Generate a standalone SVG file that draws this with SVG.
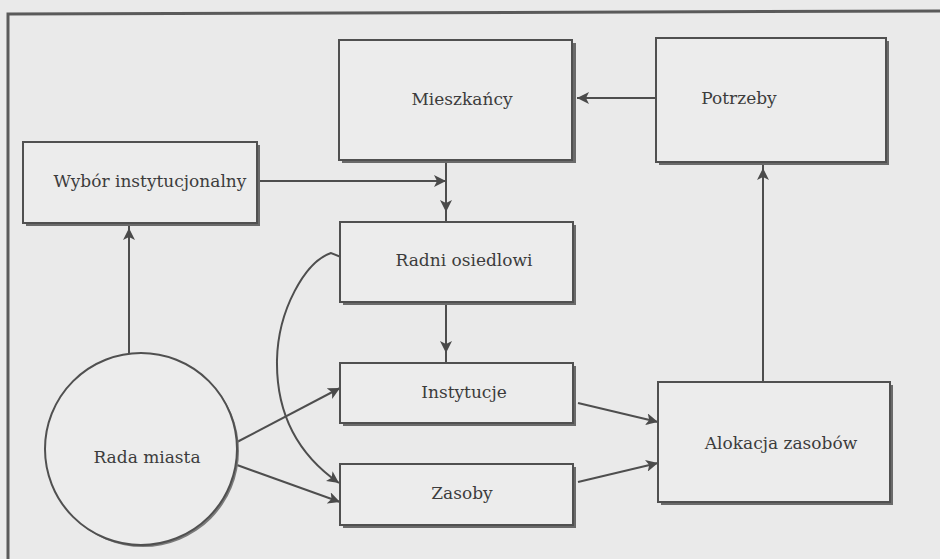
<svg xmlns="http://www.w3.org/2000/svg" width="940" height="559" viewBox="0 0 940 559">
  <style>
    .box { fill: #ececec; stroke: #505050; stroke-width: 2; }
    .shadow { fill: #6a6a6a; }
    .lbl { font-family: "DejaVu Serif", "Liberation Serif", serif; font-size: 17px; fill: #3c3c3c; text-anchor: middle; }
    .conn { fill: none; stroke: #4e4e4e; stroke-width: 2; }
    .frame { fill: none; stroke: #5a5a5a; stroke-width: 3; }
  </style>
  <defs>
    <!-- arrowhead with its tip at the end of the line -->
    <marker id="head" markerUnits="userSpaceOnUse" markerWidth="14" markerHeight="12" refX="12" refY="6" orient="auto">
      <path d="M0,0 L12,6 L0,12 L3,6 z" fill="#4a4a4a"/>
    </marker>
    <!-- arrowhead drawn a little short of the line end -->
    <marker id="head-gap" markerUnits="userSpaceOnUse" markerWidth="24" markerHeight="12" refX="22" refY="6" orient="auto">
      <path d="M0,0 L12,6 L0,12 L3,6 z" fill="#4a4a4a"/>
    </marker>
  </defs>

  <rect width="940" height="559" fill="#eaeaea"/>

  <!-- outer frame: top and left edges -->
  <path class="frame" d="M8,559 L8,14 L940,11"/>

  <!-- connectors -->
  <g id="connectors">
    <path class="conn" d="M656,98 L577,98" marker-end="url(#head)"/>
    <path class="conn" d="M257,181 L446,181" marker-end="url(#head)"/>
    <path class="conn" d="M446,161 L446,222" marker-end="url(#head-gap)"/>
    <path class="conn" d="M446,303 L446,363" marker-end="url(#head-gap)"/>
    <path class="conn" d="M129,353 L129,218" marker-end="url(#head-gap)"/>
    <path class="conn" d="M763,382 L763,158" marker-end="url(#head-gap)"/>
    <path class="conn" d="M237,442 L340,388" marker-end="url(#head)"/>
    <path class="conn" d="M237,465 L340,502" marker-end="url(#head)"/>
    <path class="conn" d="M578,403 L658,422" marker-end="url(#head)"/>
    <path class="conn" d="M578,482 L658,463" marker-end="url(#head)"/>
    <path class="conn" d="M341,257 L331,253 C305,262 278,310 277,360 C276,420 303,458 339,483" marker-end="url(#head)"/>
  </g>

  <g id="mieszkancy">
    <rect class="shadow" x="342" y="43" width="234" height="120"/>
    <rect class="box" x="339" y="40" width="233" height="120"/>
    <text class="lbl" x="462" y="105">Mieszkańcy</text>
  </g>

  <g id="potrzeby">
    <rect class="shadow" x="659" y="41" width="230" height="124"/>
    <rect class="box" x="656" y="38" width="230" height="124"/>
    <text class="lbl" x="739" y="104">Potrzeby</text>
  </g>

  <g id="wybor">
    <rect class="shadow" x="26" y="145" width="234" height="81"/>
    <rect class="box" x="23" y="142" width="234" height="81"/>
    <text class="lbl" x="150" y="187">Wybór instytucjonalny</text>
  </g>

  <g id="radni">
    <rect class="shadow" x="343" y="225" width="233" height="80"/>
    <rect class="box" x="340" y="222" width="233" height="80"/>
    <text class="lbl" x="464" y="266">Radni osiedlowi</text>
  </g>

  <g id="instytucje">
    <rect class="shadow" x="343" y="366" width="233" height="60"/>
    <rect class="box" x="340" y="363" width="233" height="60"/>
    <text class="lbl" x="464" y="398">Instytucje</text>
  </g>

  <g id="zasoby">
    <rect class="shadow" x="343" y="467" width="233" height="61"/>
    <rect class="box" x="340" y="464" width="233" height="61"/>
    <text class="lbl" x="462" y="499">Zasoby</text>
  </g>

  <g id="alokacja">
    <rect class="shadow" x="661" y="385" width="232" height="120"/>
    <rect class="box" x="658" y="382" width="232" height="120"/>
    <text class="lbl" x="781" y="449">Alokacja zasobów</text>
  </g>

  <g id="rada-miasta">
    <circle cx="143" cy="451" r="96" fill="#7a7a7a"/>
    <circle cx="141" cy="449" r="96" fill="#ececec" stroke="#505050" stroke-width="2"/>
    <text class="lbl" x="147" y="463">Rada miasta</text>
  </g>
</svg>
